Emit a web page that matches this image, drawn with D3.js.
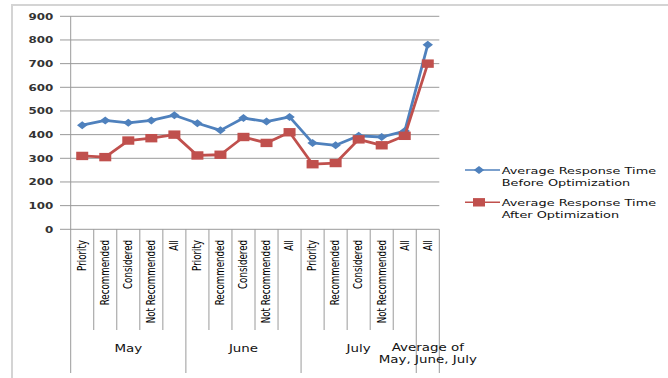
<!DOCTYPE html>
<html>
<head>
<meta charset="utf-8">
<title>Average Response Time</title>
<script src="https://d3js.org/d3.v7.min.js"></script>
<style>
  body { margin: 0; background: #fff; }
  svg { display: block; font-family: "DejaVu Sans", sans-serif; }
</style>
</head>
<body>
<script>
// ---- data ----
var categories = ["Priority", "Recommended", "Considered", "Not Recommended", "All",
                  "Priority", "Recommended", "Considered", "Not Recommended", "All",
                  "Priority", "Recommended", "Considered", "Not Recommended", "All",
                  "All"];
var groupLabels = [["May"], ["June"], ["July"], ["Average of", "May, June, July"]];
var groupSizes = [5, 5, 5, 1];
var beforeOpt = [440, 460, 450, 460, 482, 448, 418, 470, 455, 475, 365, 355, 395, 390, 415, 780];
var afterOpt  = [310, 305, 375, 385, 400, 312, 315, 390, 365, 410, 275, 280, 380, 355, 395, 700];
var yTicks = [0, 100, 200, 300, 400, 500, 600, 700, 800, 900];
var seriesNames = [["Average Response Time", "Before Optimization"],
                   ["Average Response Time", "After Optimization"]];

var W = 668, H = 378;
var k = 1.4;            // the picture is stretched sideways, so is the text
var blue = "#4f81bd", red = "#c0504d", grid = "#9a9a9a";

var svg = d3.select("body").append("svg")
    .attr("width", W)
    .attr("height", H);

var x = d3.scaleBand().domain(d3.range(categories.length)).range([70.7, 439.3]);
var y = d3.scaleLinear().domain([0, 900]).range([229.3, 16.3]);
var bw = x.bandwidth();
var cx = function (i) { return x(i) + bw / 2; };
var catBottom = 330, groupBottom = 373;

// stretched text helper
function stext(g, tx, ty, str, rot) {
    return g.append("text")
        .attr("transform", "translate(" + tx + "," + ty + ") scale(" + k + ",1)" + (rot ? " rotate(-90)" : ""))
        .text(str);
}

// outer frame (only top / left visible)
svg.append("path")
    .attr("d", "M12," + H + "V5H" + W)
    .attr("fill", "none")
    .attr("stroke", "#d4d4d4")
    .attr("stroke-width", 2);

// gridlines + y labels
var gy = svg.append("g");
yTicks.forEach(function (t) {
    gy.append("line")
        .attr("x1", 60).attr("x2", x.range()[1])
        .attr("y1", y(t)).attr("y2", y(t))
        .attr("stroke", grid).attr("stroke-width", 1);
    stext(gy, 53.3, y(t) + 3.2, t)
        .attr("text-anchor", "end")
        .attr("font-size", 8.5)
        .attr("font-weight", "bold")
        .attr("fill", "#333");
});

// y axis line
svg.append("line")
    .attr("x1", x.range()[0]).attr("x2", x.range()[0])
    .attr("y1", y(900)).attr("y2", groupBottom)
    .attr("stroke", grid);

// category separators
var starts = [0];
groupSizes.forEach(function (n, i) { starts.push(starts[i] + n); });
var gx = svg.append("g");
for (var i = 1; i <= categories.length; i++) {
    var xb = i < categories.length ? x(i) : x.range()[1];
    gx.append("line")
        .attr("x1", xb).attr("x2", xb)
        .attr("y1", y(0)).attr("y2", starts.indexOf(i) >= 0 ? groupBottom : catBottom)
        .attr("stroke", grid);
}

// category labels (vertical)
categories.forEach(function (c, i) {
    stext(gx, cx(i) + 3.8, 240, c, true)
        .attr("text-anchor", "end")
        .attr("font-size", 8.7)
        .attr("fill", "#000");
});

// group labels
groupLabels.forEach(function (lines, gi) {
    var mid = (x(starts[gi]) + (starts[gi + 1] < categories.length ? x(starts[gi + 1]) : x.range()[1])) / 2;
    var y0 = lines.length > 1 ? 350.5 : 352;
    lines.forEach(function (l, li) {
        stext(gx, mid, y0 + li * 12.5, l)
            .attr("text-anchor", "middle")
            .attr("font-size", 9.6)
            .attr("fill", "#111");
    });
});

// series
function diamond(g, px, py, col) {
    g.append("path")
        .attr("d", "M" + (px - 5.2) + "," + py + "L" + px + "," + (py - 4) + "L" + (px + 5.2) + "," + py + "L" + px + "," + (py + 4) + "Z")
        .attr("fill", col);
}
function square(g, px, py, col) {
    g.append("rect")
        .attr("x", px - 6).attr("y", py - 4.2)
        .attr("width", 12).attr("height", 8.4)
        .attr("fill", col);
}

var line = d3.line()
    .x(function (d, i) { return cx(i); })
    .y(function (d) { return y(d); });

var series = [
    { data: beforeOpt, col: blue, mark: diamond },
    { data: afterOpt, col: red, mark: square }
];

series.forEach(function (s) {
    var g = svg.append("g");
    g.append("path")
        .attr("d", line(s.data))
        .attr("fill", "none")
        .attr("stroke", s.col)
        .attr("stroke-width", 2.8)
        .attr("stroke-linejoin", "round");
    s.data.forEach(function (d, i) { s.mark(g, cx(i), y(d), s.col); });
});

// legend
var lg = svg.append("g");
series.forEach(function (s, si) {
    var ly = 170 + si * 32.3;
    lg.append("line")
        .attr("x1", 465).attr("x2", 500)
        .attr("y1", ly).attr("y2", ly)
        .attr("stroke", s.col).attr("stroke-width", 1.6);
    s.mark(lg, 479, ly, s.col);
    seriesNames[si].forEach(function (t, ti) {
        stext(lg, 501.7, ly + 3.6 + ti * 12.3, t)
            .attr("font-size", 9.2)
            .attr("fill", "#111");
    });
});
</script>
</body>
</html>
